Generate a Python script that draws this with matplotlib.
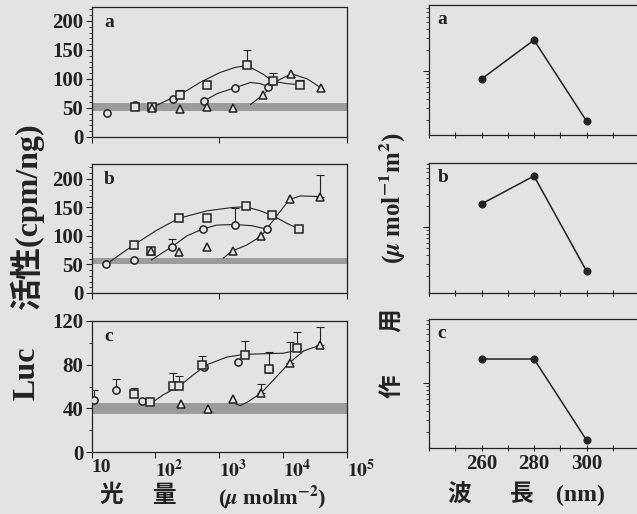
import numpy as np
import matplotlib
matplotlib.use("Agg")
import matplotlib.pyplot as plt
from matplotlib.ticker import MultipleLocator, LogLocator, NullFormatter

plt.rcParams['font.family'] = ['Liberation Serif', 'Noto Sans CJK JP']
plt.rcParams['font.weight'] = 'bold'
plt.rcParams['mathtext.fontset'] = 'stix'

BG = '#e3e3e3'
INK = '#222222'
BAND = '#9c9c9c'

# ---- panel a (dose response) ----
a_circ_x = [17.5, 48, 190, 575, 1780, 5890]
a_circ_y = [41, 55, 65, 62, 85, 87]
a_circ_err = [0, 0, 0, 0, 0, 0]
a_sq_x = [48, 89, 245, 646, 2750, 6920, 18600]
a_sq_y = [51, 52, 73, 90, 124, 96, 90]
a_sq_err = [0, 0, 8.5, 0, 26, 15, 9]
a_tri_x = [89, 245, 646, 1660, 4900, 13500, 39800]
a_tri_y = [50, 49, 51, 50, 73, 109, 84]
a_tri_err = [0, 0, 0, 0, 0, 0, 0]
a_sq_fit_x = [89, 151, 245, 501, 1023, 1780, 2750, 4900, 6920, 11500, 18600]
a_sq_fit_y = [51, 63, 73, 94, 111, 120, 123, 108, 96, 92, 90]
a_circ_fit_x = [575, 933, 1780, 3090, 4370, 5890]
a_circ_fit_y = [62, 75, 85, 94, 92, 87]
a_tri_fit_x = [3090, 4900, 8130, 13500, 24000, 39800]
a_tri_fit_y = [56, 73, 97, 109, 100, 84]
a_band = (44.5, 58)

# ---- panel b ----
b_circ_x = [17, 45.7, 182, 550, 1740, 5620]
b_circ_y = [51, 58, 81, 112, 120, 112]
b_circ_err = [0, 0, 13, 0, 28.5, 0]
b_sq_x = [45.7, 85, 234, 646, 2630, 6760, 17800]
b_sq_y = [84, 74, 131, 131, 153, 136, 112]
b_sq_err = [0, 0, 0, 0, 0, 0, 0]
b_tri_x = [85, 234, 646, 1620, 4570, 12600, 37200]
b_tri_y = [74, 71, 80, 74, 100, 164, 169]
b_tri_err = [0, 0, 0, 0, 0, 0, 38]
b_sq_fit_x = [19.5, 45.7, 105, 234, 646, 1660, 2630, 4370, 6760, 11500, 17800]
b_sq_fit_y = [55, 84, 110, 131, 144, 150, 151, 144, 136, 122, 112]
b_circ_fit_x = [87, 182, 309, 550, 912, 1740, 3160, 5620]
b_circ_fit_y = [58, 81, 100, 112, 119, 120, 118, 112]
b_tri_fit_x = [1150, 1620, 2690, 4570, 7080, 12600, 18600, 37200]
b_tri_fit_y = [61, 74, 84, 100, 128, 164, 170, 169]
b_band = (50.5, 61)

# ---- panel c ----
c_circ_x = [11, 24, 61.7, 575, 1950, 6030]
c_circ_y = [48, 57, 46.5, 78, 82.4, 76]
c_circ_err = [9, 9.5, 0, 0, 0, 0]
c_sq_x = [45.7, 83, 190, 234, 537, 2510, 6030, 16200]
c_sq_y = [53, 45.6, 60.3, 60.3, 79.3, 88.5, 76.3, 95.6]
c_sq_err = [6, 0, 12.3, 9.2, 8.7, 13.5, 15.3, 14.4]
c_tri_x = [251, 661, 1620, 4570, 12600, 37200]
c_tri_y = [44.4, 39, 49, 54.2, 81.8, 97.7]
c_tri_err = [0, 0, 0, 7.7, 18.9, 16.8]
c_sq_fit_x = [87, 135, 234, 398, 646, 1320, 2510, 5010, 10000, 16200]
c_sq_fit_y = [45, 52.7, 60, 71, 80, 87, 89.5, 90, 90.5, 93]
c_tri_fit_x = [1820, 2140, 2820, 4570, 7590, 12600, 20900, 37200]
c_tri_fit_y = [44, 42.5, 46, 54.2, 68, 81.8, 92.5, 97.7]
c_band = (35, 45)

dose_ticks = [10, 1e2, 1e3, 1e4, 1e5]
dose_labels = ['10', r'$\mathbf{10^{2}}$', r'$\mathbf{10^{3}}$',
               r'$\mathbf{10^{4}}$', r'$\mathbf{10^{5}}$']

# ---- action spectra ----
wavelength = [260, 280, 300]
act_a = [0.769, 2.77, 0.193]
act_b = [2.13, 5.35, 0.235]
act_c = [2.2, 2.2, 0.153]
wl_ticks = [240, 250, 260, 270, 280, 290, 300, 310, 320]
wl_labels = ['', '', '260', '', '280', '', '300', '', '']

W, H = 637, 514
fig = plt.figure(figsize=(W / 100, H / 100), dpi=100, facecolor=BG)


def box(x0, y0, x1, y1):
    # pixel box -> figure fraction rect
    return [x0 / W, 1 - y1 / H, (x1 - x0) / W, (y1 - y0) / H]


def style_axes(ax):
    ax.set_facecolor(BG)
    for s in ax.spines.values():
        s.set_color(INK)
        s.set_linewidth(0.9)
    ax.tick_params(which='major', direction='out', length=4, width=0.8,
                   colors=INK, labelsize=15, pad=2)
    ax.tick_params(which='minor', direction='out', length=2.3, width=0.6,
                   colors=INK)


def points(ax, x, y, err, marker, ms):
    x = np.array(x)
    y = np.array(y)
    err = np.array(err)
    has = err > 0
    if has.any():
        ax.errorbar(x[has], y[has], yerr=[np.zeros(has.sum()), err[has]],
                    fmt='none', ecolor=INK, elinewidth=0.8, capsize=3,
                    capthick=0.8, zorder=3)
    ax.plot(x, y, ls='none', marker=marker, ms=ms, mfc=BG, mec=INK,
            mew=1.1, zorder=4)


dose_panels = [
    dict(rect=box(91.5, 7, 347, 137), ymax=224, major=50, minor=10, letter='a',
         band=a_band,
         pts=[(a_circ_x, a_circ_y, a_circ_err), (a_sq_x, a_sq_y, a_sq_err),
              (a_tri_x, a_tri_y, a_tri_err)],
         fits=[(a_sq_fit_x, a_sq_fit_y), (a_circ_fit_x, a_circ_fit_y),
               (a_tri_fit_x, a_tri_fit_y)]),
    dict(rect=box(91.5, 164, 347, 293), ymax=226, major=50, minor=10, letter='b',
         band=b_band,
         pts=[(b_circ_x, b_circ_y, b_circ_err), (b_sq_x, b_sq_y, b_sq_err),
              (b_tri_x, b_tri_y, b_tri_err)],
         fits=[(b_sq_fit_x, b_sq_fit_y), (b_circ_fit_x, b_circ_fit_y),
               (b_tri_fit_x, b_tri_fit_y)]),
    dict(rect=box(91.5, 321, 347, 452), ymax=120, major=40, minor=20, letter='c',
         band=c_band,
         pts=[(c_circ_x, c_circ_y, c_circ_err), (c_sq_x, c_sq_y, c_sq_err),
              (c_tri_x, c_tri_y, c_tri_err)],
         fits=[(c_sq_fit_x, c_sq_fit_y), (c_tri_fit_x, c_tri_fit_y)]),
]

markers = [('o', 5.2), ('s', 5.6), ('^', 6.2)]

for i, p in enumerate(dose_panels):
    ax = fig.add_axes(p['rect'])
    style_axes(ax)
    ax.set_xscale('log')
    ax.set_xlim(10, 1e5)
    ax.set_ylim(0, p['ymax'])
    ax.yaxis.set_major_locator(MultipleLocator(p['major']))
    ax.yaxis.set_minor_locator(MultipleLocator(p['minor']))
    ax.xaxis.set_major_locator(LogLocator(base=10))
    ax.xaxis.set_minor_locator(LogLocator(base=10, subs=np.arange(2, 10)))
    ax.xaxis.set_minor_formatter(NullFormatter())
    ax.axhspan(*p['band'], color=BAND, lw=0, zorder=1)
    for fx, fy in p['fits']:
        ax.plot(fx, fy, color=INK, lw=0.8, zorder=2)
    for (x, y, e), (m, ms) in zip(p['pts'], markers):
        points(ax, x, y, e, m, ms)
    ax.text(0.05, 0.88, p['letter'], transform=ax.transAxes, fontsize=14,
            va='center', ha='left', color=INK)
    if i == 2:
        ax.set_xticks(dose_ticks)
        ax.set_xticklabels(dose_labels)
        for lab in ax.get_xticklabels():
            lab.set_ha('left')
        ax.tick_params(axis='x', which='major', pad=1, labelsize=14)
    else:
        ax.xaxis.set_major_formatter(NullFormatter())

act_panels = [
    dict(rect=box(429, 5, 639, 135), ylim=(0.122, 8.77), y=act_a, letter='a'),
    dict(rect=box(429, 163, 639, 293), ylim=(0.114, 8.2), y=act_b, letter='b'),
    dict(rect=box(429, 319, 639, 448), ylim=(0.118, 8.2), y=act_c, letter='c'),
]

for i, p in enumerate(act_panels):
    ax = fig.add_axes(p['rect'])
    style_axes(ax)
    ax.set_yscale('log')
    ax.set_ylim(*p['ylim'])
    ax.set_xlim(240, 320)
    ax.yaxis.set_major_locator(LogLocator(base=10))
    ax.yaxis.set_minor_locator(LogLocator(base=10, subs=np.arange(2, 10)))
    ax.yaxis.set_major_formatter(NullFormatter())
    ax.yaxis.set_minor_formatter(NullFormatter())
    ax.set_xticks(wl_ticks)
    ax.tick_params(axis='x', which='major', direction='inout', length=5)
    if i == 2:
        ax.set_xticklabels(wl_labels)
    else:
        ax.set_xticklabels([''] * len(wl_ticks))
    ax.plot(wavelength, p['y'], color=INK, lw=1.1, marker='o', ms=4.8,
            mfc=INK, mec=INK, zorder=3)
    ax.text(0.04, 0.885, p['letter'], transform=ax.transAxes, fontsize=14,
            va='center', ha='left', color=INK)


def ftext(x, y, s, **kw):
    fig.text(x / W, 1 - y / H, s, color=INK, ha='center', va='center', **kw)


# left y label
ftext(27, 373, 'Luc', rotation=90, fontsize=23)
ftext(27, 216, '活性(cpm/ng)', rotation=90, fontsize=23)
# left x label
ftext(111, 496, '光', fontsize=17)
ftext(165, 496, '量', fontsize=17)
ftext(272, 497, r'($\mu$ molm$^{\mathbf{-2}}$)', fontsize=16)
# right y label
ftext(393, 198, r'($\mu$ mol$^{\mathbf{-1}}$m$^{\mathbf{2}}$)', rotation=90, fontsize=18)
ftext(393, 320, '用', rotation=90, fontsize=17)
ftext(393, 386, '作', rotation=90, fontsize=17)
# right x label
ftext(459, 495, '波', fontsize=17)
ftext(522, 495, '長', fontsize=17)
ftext(580, 495, '(nm)', fontsize=17)

fig.savefig('out.png', dpi=100, facecolor=BG)
